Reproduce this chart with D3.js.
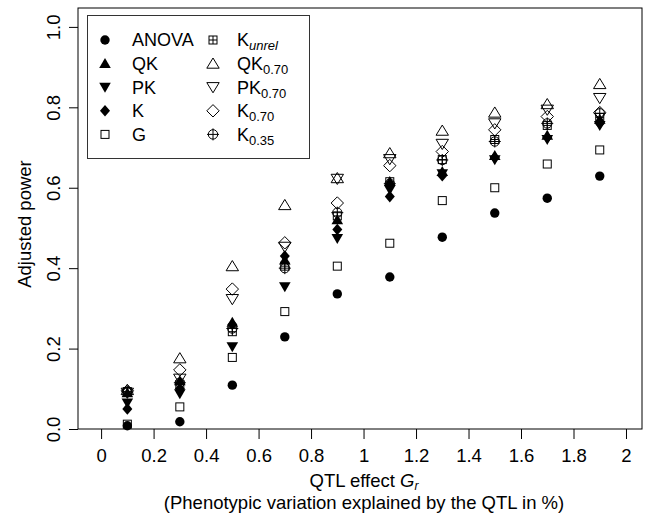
<!DOCTYPE html>
<html>
<head>
<meta charset="utf-8">
<script src="https://cdn.jsdelivr.net/npm/d3@7"></script>
<style>
  html, body { margin: 0; padding: 0; background: #fff; }
  svg { display: block; font-family: "Liberation Sans", Arial, Helvetica, sans-serif; }
</style>
</head>
<body>
<svg id="chart" width="651" height="515"></svg>
<script>
// ---------- data ----------
const effects = [0.1, 0.3, 0.5, 0.7, 0.9, 1.1, 1.3, 1.5, 1.7, 1.9];

const anova  = [0.008, 0.018, 0.109, 0.229, 0.336, 0.378, 0.477, 0.537, 0.574, 0.629];
const qk     = [0.090, 0.120, 0.265, 0.420, 0.520, 0.615, 0.640, 0.680, 0.730, 0.770];
const pk     = [0.065, 0.088, 0.205, 0.354, 0.474, 0.595, 0.635, 0.670, 0.720, 0.755];
const k      = [0.050, 0.100, 0.260, 0.430, 0.496, 0.578, 0.630, 0.675, 0.725, 0.760];
const g      = [0.012, 0.055, 0.178, 0.292, 0.405, 0.462, 0.568, 0.600, 0.659, 0.694];
const kUnrel = [0.093, 0.110, 0.242, 0.405, 0.530, 0.615, 0.670, 0.720, 0.755, 0.775];
const qk070  = [0.097, 0.176, 0.405, 0.557, 0.624, 0.686, 0.742, 0.787, 0.808, 0.858];
const pk070  = [0.090, 0.125, 0.323, 0.453, 0.622, 0.671, 0.709, 0.760, 0.794, 0.823];
const k070   = [0.095, 0.147, 0.348, 0.463, 0.562, 0.655, 0.690, 0.744, 0.777, 0.787];
const k035   = [0.092, 0.115, 0.250, 0.400, 0.538, 0.610, 0.669, 0.715, 0.760, 0.785];

const xTicks = [0, 0.2, 0.4, 0.6, 0.8, 1, 1.2, 1.4, 1.6, 1.8, 2];
const yTicks = [0, 0.2, 0.4, 0.6, 0.8, 1];

// legend order: first column then second column
const series = [
  { base: 'ANOVA', sub: '',      it: false, shape: 'circleFill', values: anova },
  { base: 'QK',    sub: '',      it: false, shape: 'triUpFill',  values: qk },
  { base: 'PK',    sub: '',      it: false, shape: 'triDnFill',  values: pk },
  { base: 'K',     sub: '',      it: false, shape: 'diamFill',   values: k },
  { base: 'G',     sub: '',      it: false, shape: 'square',     values: g },
  { base: 'K',     sub: 'unrel', it: true,  shape: 'squarePlus', values: kUnrel },
  { base: 'QK',    sub: '0.70',  it: false, shape: 'triUp',      values: qk070 },
  { base: 'PK',    sub: '0.70',  it: false, shape: 'triDn',      values: pk070 },
  { base: 'K',     sub: '0.70',  it: false, shape: 'diam',       values: k070 },
  { base: 'K',     sub: '0.35',  it: false, shape: 'circlePlus', values: k035 }
];

// ---------- layout ----------
const svg = d3.select('#chart');
const L = 78, R = 642, T = 8, B = 429;
const FS = 18.5;

const x = d3.scaleLinear().domain([-0.088, 2.061]).range([L, R]);
const y = d3.scaleLinear().domain([0, 1.047]).range([B, T]);

// R pch-like markers
function marker(sel, shape, cx, cy) {
  const s = sel.append('g').attr('transform', `translate(${cx},${cy})`);
  const open = el => el.attr('fill', 'none').attr('stroke', '#000').attr('stroke-width', 1);
  switch (shape) {
    case 'circleFill':
      s.append('circle').attr('r', 4.7).attr('fill', '#000'); break;
    case 'triUpFill':
      s.append('path').attr('d', 'M0,-5.6L5.8,4.4L-5.8,4.4Z').attr('fill', '#000'); break;
    case 'triDnFill':
      s.append('path').attr('d', 'M0,5.6L5.8,-4.4L-5.8,-4.4Z').attr('fill', '#000'); break;
    case 'diamFill':
      s.append('path').attr('d', 'M0,-5.8L5,0L0,5.8L-5,0Z').attr('fill', '#000'); break;
    case 'square':
      open(s.append('rect').attr('x', -4).attr('y', -4).attr('width', 8).attr('height', 8)); break;
    case 'squarePlus':
      open(s.append('rect').attr('x', -4).attr('y', -4).attr('width', 8).attr('height', 8));
      open(s.append('path').attr('d', 'M-4,0H4M0,-4V4')); break;
    case 'triUp':
      open(s.append('path').attr('d', 'M0,-5.6L6.2,4.6L-6.2,4.6Z')); break;
    case 'triDn':
      open(s.append('path').attr('d', 'M0,5.6L6.2,-4.6L-6.2,-4.6Z')); break;
    case 'diam':
      open(s.append('path').attr('d', 'M0,-6.2L6.2,0L0,6.2L-6.2,0Z')); break;
    case 'circlePlus':
      open(s.append('circle').attr('r', 4.7));
      open(s.append('path').attr('d', 'M-6,0H6M0,-6V6')); break;
  }
}

// ---------- points ----------
const pts = svg.append('g');
series.forEach(se => {
  se.values.forEach((v, i) => marker(pts, se.shape, x(effects[i]), y(v)));
});

// ---------- frame + axes ----------
svg.append('rect')
  .attr('x', L).attr('y', T).attr('width', R - L).attr('height', B - T)
  .attr('fill', 'none').attr('stroke', '#000').attr('stroke-width', 1);

const xAxis = svg.append('g').attr('transform', `translate(0,${B})`)
  .call(d3.axisBottom(x).tickValues(xTicks).tickSize(10)
    .tickFormat(d => d3.format('~g')(d)));
xAxis.select('.domain').remove();
xAxis.selectAll('text')
  .attr('font-size', FS).attr('fill', '#000').style('font-family', 'inherit')
  .attr('y', 33).attr('dy', null);

const yAxis = svg.append('g').attr('transform', `translate(${L},0)`)
  .call(d3.axisLeft(y).tickValues(yTicks).tickSize(9).tickFormat(d3.format('.1f')));
yAxis.select('.domain').remove();
yAxis.selectAll('text')
  .attr('font-size', FS).attr('fill', '#000').style('font-family', 'inherit')
  .attr('text-anchor', 'middle').attr('x', null)
  .attr('transform', 'translate(-24,0) rotate(-90)')
  .attr('dy', '0.35em');

// ---------- axis titles ----------
const xt = svg.append('text').attr('x', 364).attr('y', 487)
  .attr('text-anchor', 'middle').attr('font-size', FS);
xt.append('tspan').text('QTL effect ');
xt.append('tspan').attr('font-style', 'italic').text('G');
xt.append('tspan').attr('font-style', 'italic').attr('font-size', 12).attr('dy', 3).text('r');

svg.append('text').attr('x', 364).attr('y', 509)
  .attr('text-anchor', 'middle').attr('font-size', FS)
  .text('(Phenotypic variation explained by the QTL in %)');

svg.append('text')
  .attr('transform', 'translate(31,224) rotate(-90)')
  .attr('text-anchor', 'middle').attr('font-size', FS)
  .text('Adjusted power');

// ---------- legend ----------
svg.append('rect')
  .attr('x', 87.5).attr('y', 15.5).attr('width', 222).attr('height', 143)
  .attr('fill', '#fff').attr('stroke', '#333').attr('stroke-width', 1);

const legend = svg.append('g');
series.forEach((se, i) => {
  const col = i < 5 ? 0 : 1;
  const row = i % 5;
  const ly = 40 + row * 23.6;
  const sx = col ? 213 : 105;
  const tx = col ? 237 : 132;
  marker(legend, se.shape, sx, ly);
  const t = legend.append('text').attr('x', tx).attr('y', ly).attr('dy', '0.36em')
    .attr('font-size', 18);
  t.append('tspan').text(se.base);
  if (se.sub) {
    t.append('tspan').attr('font-size', 13).attr('dy', 4)
      .attr('font-style', se.it ? 'italic' : 'normal').text(se.sub);
  }
});
</script>
</body>
</html>
